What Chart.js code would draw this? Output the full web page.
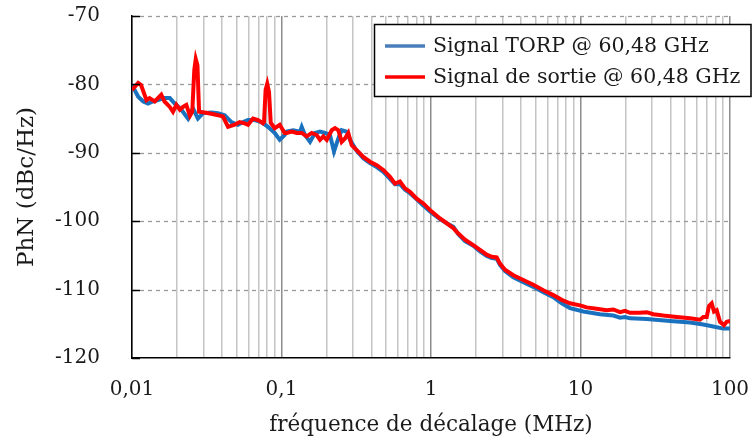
<!DOCTYPE html>
<html>
<head>
<meta charset="utf-8">
<script src="https://cdn.jsdelivr.net/npm/chart.js@4/dist/chart.umd.min.js"></script>
<style>
  html, body { margin: 0; padding: 0; background: #fff; }
  #wrap { width: 753px; height: 442px; }
</style>
</head>
<body>
<div id="wrap"><canvas id="phn"></canvas></div>
<script>
"use strict";

// offset frequency (MHz) / phase noise (dBc/Hz)
const torpFreq = [0.0100, 0.0110, 0.0119, 0.0128, 0.0138, 0.0149, 0.0165, 0.0179, 0.0193, 0.0214,
  0.0237, 0.0256, 0.0276, 0.0299, 0.0339, 0.0376, 0.0417, 0.0462, 0.0512, 0.0553,
  0.0597, 0.0662, 0.0733, 0.0812, 0.0901, 0.0973, 0.1050, 0.1083, 0.1199, 0.1330,
  0.1365, 0.1436, 0.1551, 0.1675, 0.1809, 0.1954, 0.2110, 0.2244, 0.2399, 0.2527,
  0.2730, 0.2872, 0.3022, 0.3184, 0.3526, 0.3908, 0.4334, 0.4797, 0.5318, 0.5742,
  0.6201, 0.6700, 0.7234, 0.8024, 0.8881, 1.011, 1.149, 1.274, 1.410, 1.523,
  1.688, 1.918, 2.127, 2.358, 2.547, 2.751, 2.893, 3.126, 3.553, 4.144,
  4.834, 5.639, 6.578, 7.486, 8.506, 10.45, 13.50, 16.58, 18.38, 19.85,
  21.44, 27.73, 39.70, 54.01, 66.29, 77.33, 90.23, 100];
const torpPhn = [-80.1, -81.8, -82.5, -82.8, -82.5, -82.3, -82.0, -82.0, -82.8, -83.7,
  -85.0, -83.5, -85.0, -84.2, -84.1, -84.2, -84.5, -85.5, -85.9, -85.5,
  -85.2, -85.2, -85.5, -86.2, -87.1, -88.1, -87.4, -86.9, -86.7, -86.9,
  -86.2, -87.4, -88.4, -87.1, -86.9, -87.1, -87.4, -89.8, -87.9, -86.7,
  -86.9, -88.1, -88.9, -89.7, -90.8, -91.5, -92.1, -92.8, -93.8, -94.6,
  -94.6, -95.4, -95.9, -96.8, -97.7, -98.8, -99.7, -100.3, -100.8, -101.9,
  -102.9, -103.6, -104.4, -105.1, -105.4, -105.5, -106.4, -107.3, -108.2, -108.9,
  -109.6, -110.4, -111.1, -112.0, -112.7, -113.2, -113.6, -113.8, -114.1, -114.0,
  -114.2, -114.3, -114.6, -114.8, -115.1, -115.4, -115.7, -115.7];

const sortieFreq = [0.0100, 0.0110, 0.0115, 0.0125, 0.0131, 0.0142, 0.0157, 0.0165, 0.0179, 0.0188,
  0.0198, 0.0209, 0.0219, 0.0231, 0.0244, 0.0253, 0.0261, 0.0267, 0.0274, 0.0281,
  0.0306, 0.0339, 0.0376, 0.0406, 0.0439, 0.0486, 0.0525, 0.0567, 0.0597, 0.0645,
  0.0696, 0.0752, 0.0764, 0.0783, 0.0803, 0.0825, 0.0847, 0.0901, 0.0973, 0.1050,
  0.1083, 0.1170, 0.1264, 0.1365, 0.1474, 0.1592, 0.1720, 0.1809, 0.1904, 0.2006,
  0.2167, 0.2280, 0.2399, 0.2527, 0.2659, 0.2798, 0.2949, 0.3184, 0.3526, 0.3908,
  0.4334, 0.4797, 0.5318, 0.5742, 0.6201, 0.6700, 0.7234, 0.8024, 0.8881, 1.011,
  1.149, 1.274, 1.410, 1.523, 1.688, 1.918, 2.127, 2.358, 2.547, 2.751,
  2.893, 3.126, 3.553, 4.144, 4.834, 5.639, 6.578, 7.486, 8.506, 9.924,
  11.00, 12.83, 14.97, 16.58, 18.38, 19.85, 21.44, 25.00, 27.73, 30.69,
  35.80, 44.01, 54.01, 63.00, 66.29, 69.84, 72.36, 75.44, 78.16, 81.47,
  85.72, 91.19, 95.04, 100];
const sortiePhn = [-80.8, -79.8, -80.1, -82.3, -82.0, -82.5, -81.5, -82.5, -83.3, -84.0,
  -83.0, -83.7, -83.3, -83.0, -84.6, -84.0, -77.9, -76.3, -77.2, -84.0,
  -84.1, -84.3, -84.5, -84.7, -86.2, -85.9, -85.5, -85.7, -85.9, -85.0,
  -85.2, -85.7, -85.5, -80.8, -79.9, -81.1, -85.6, -86.4, -85.9, -87.1,
  -87.1, -86.9, -87.1, -87.1, -87.6, -87.1, -87.4, -88.1, -87.6, -88.1,
  -86.7, -86.4, -86.7, -88.4, -87.9, -87.1, -88.9, -89.6, -90.6, -91.3,
  -91.8, -92.5, -93.5, -94.5, -94.2, -95.2, -95.7, -96.7, -97.4, -98.6,
  -99.6, -100.3, -101.0, -101.8, -102.7, -103.5, -104.2, -104.9, -105.2, -105.3,
  -106.2, -107.1, -107.9, -108.6, -109.3, -110.1, -110.8, -111.5, -112.0, -112.3,
  -112.6, -112.8, -113.0, -112.9, -113.3, -113.1, -113.4, -113.4, -113.3, -113.6,
  -113.8, -114.0, -114.2, -114.4, -114.0, -114.0, -112.4, -112.0, -113.2, -113.0,
  -114.7, -115.2, -114.7, -114.6];

const seriesNames = ["Signal TORP @ 60,48 GHz", "Signal de sortie @ 60,48 GHz"];
const decades = [0.01, 0.1, 1, 10, 100];
const decadeLabels = ["0,01", "0,1", "1", "10", "100"];
const phnTicks = [-120, -110, -100, -90, -80, -70];

const FONT = "'DejaVu Serif', 'Liberation Serif', serif";
const TEXT = "#1a1a1a";

// 1..9 x 10^k grid lines between the decades
const gridFreqs = [];
decades.forEach(function (d, i) {
    if (i === decades.length - 1) { gridFreqs.push(d); return; }
    for (let k = 1; k <= 9; k++) gridFreqs.push(+(d * k).toPrecision(3));
});

const decadeIndex = function (v) {
    return decades.findIndex(function (d) { return Math.abs(v / d - 1) < 1e-6; });
};

const toPoints = function (xs, ys) {
    return xs.map(function (x, i) { return { x: x, y: ys[i] }; });
};

// dashed horizontal grid, drawn under the curves
const dashGridPlugin = {
    id: "dashGrid",
    beforeDatasetsDraw: function (chart) {
        const ctx = chart.ctx, a = chart.chartArea, y = chart.scales.y;
        ctx.save();
        ctx.strokeStyle = "#9a9a9a";
        ctx.lineWidth = 1.3;
        ctx.setLineDash([4, 4]);
        phnTicks.forEach(function (t) {
            if (t === -120) return;
            const py = Math.round(y.getPixelForValue(t)) + 0.5;
            ctx.beginPath();
            ctx.moveTo(a.left, py);
            ctx.lineTo(a.right, py);
            ctx.stroke();
        });
        ctx.restore();
    },
    // short black ticks on the inside of the y axis
    afterDatasetsDraw: function (chart) {
        const ctx = chart.ctx, a = chart.chartArea, y = chart.scales.y;
        ctx.save();
        ctx.strokeStyle = "#000";
        ctx.lineWidth = 1.5;
        phnTicks.forEach(function (t) {
            const py = Math.round(y.getPixelForValue(t)) + 0.5;
            ctx.beginPath();
            ctx.moveTo(a.left, py);
            ctx.lineTo(a.left + 8, py);
            ctx.stroke();
        });
        ctx.restore();
    }
};

// boxed legend in the upper right corner
const legendPlugin = {
    id: "boxLegend",
    afterDraw: function (chart) {
        const ctx = chart.ctx;
        const x0 = 374, y0 = 24, w = 378, h = 73;
        ctx.save();
        ctx.fillStyle = "#fff";
        ctx.fillRect(x0, y0, w, h);
        ctx.strokeStyle = "#000";
        ctx.lineWidth = 1.5;
        ctx.strokeRect(x0 + 0.5, y0 + 0.5, w - 1.5, h - 1);
        ctx.font = "20.5px " + FONT;
        ctx.textBaseline = "middle";
        ctx.fillStyle = TEXT;
        seriesNames.forEach(function (name, i) {
            const ds = chart.data.datasets.find(function (d) { return d.label === name; });
            const ly = y0 + 22 + i * 31;
            ctx.strokeStyle = ds.legendColor || ds.borderColor;
            ctx.lineWidth = 3.5;
            ctx.beginPath();
            ctx.moveTo(x0 + 11, ly);
            ctx.lineTo(x0 + 51, ly);
            ctx.stroke();
            ctx.fillText(name, x0 + 59, ly + 1);
        });
        ctx.restore();
    }
};

new Chart(document.getElementById("phn"), {
    type: "line",
    data: {
        datasets: [
            {
                label: seriesNames[0],
                data: toPoints(torpFreq, torpPhn),
                borderColor: "#1a72bf",
                legendColor: "#4a7ebb",
                borderWidth: 4,
                pointRadius: 0,
                tension: 0,
                order: 2
            },
            {
                label: seriesNames[1],
                data: toPoints(sortieFreq, sortiePhn),
                borderColor: "#ff0000",
                borderWidth: 4,
                pointRadius: 0,
                tension: 0,
                order: 1
            }
        ]
    },
    options: {
        responsive: true,
        maintainAspectRatio: false,
        animation: false,
        layout: { padding: { top: 16, right: 23, bottom: 0, left: 0 } },
        plugins: {
            legend: { display: false },
            tooltip: { enabled: false }
        },
        scales: {
            x: {
                type: "logarithmic",
                min: 0.01,
                max: 100,
                afterBuildTicks: function (scale) {
                    scale.ticks = gridFreqs.map(function (v) { return { value: v }; });
                },
                afterFit: function (scale) {
                    scale.height = 84;
                    scale.paddingLeft = 0;
                    scale.paddingRight = 0;
                },
                ticks: {
                    autoSkip: false,
                    maxRotation: 0,
                    padding: 20,
                    color: TEXT,
                    font: { family: FONT, size: 20 },
                    callback: function (v) {
                        const i = decadeIndex(v);
                        return i >= 0 ? decadeLabels[i] : "";
                    }
                },
                grid: {
                    drawTicks: false,
                    lineWidth: 1.5,
                    color: function (c) { return decadeIndex(c.tick.value) >= 0 ? "#8c8c8c" : "#c4c4c4"; }
                },
                border: { color: "#000", width: 1.5 },
                title: {
                    display: true,
                    text: "fréquence de décalage (MHz)",
                    color: TEXT,
                    font: { family: FONT, size: 21.5 },
                    padding: { top: 0, bottom: 4 }
                }
            },
            y: {
                min: -120,
                max: -70,
                afterBuildTicks: function (scale) {
                    scale.ticks = phnTicks.map(function (v) { return { value: v }; });
                },
                afterFit: function (scale) {
                    scale.width = 132;
                    scale.paddingTop = 0;
                    scale.paddingBottom = 0;
                },
                ticks: {
                    padding: 24,
                    color: TEXT,
                    font: { family: FONT, size: 20 }
                },
                grid: { display: false },
                border: { color: "#000", width: 1.5 },
                title: {
                    display: true,
                    text: "PhN (dBc/Hz)",
                    color: TEXT,
                    font: { family: FONT, size: 23 },
                    padding: { top: 13, bottom: 0 }
                }
            }
        }
    },
    plugins: [dashGridPlugin, legendPlugin]
});
</script>
</body>
</html>
